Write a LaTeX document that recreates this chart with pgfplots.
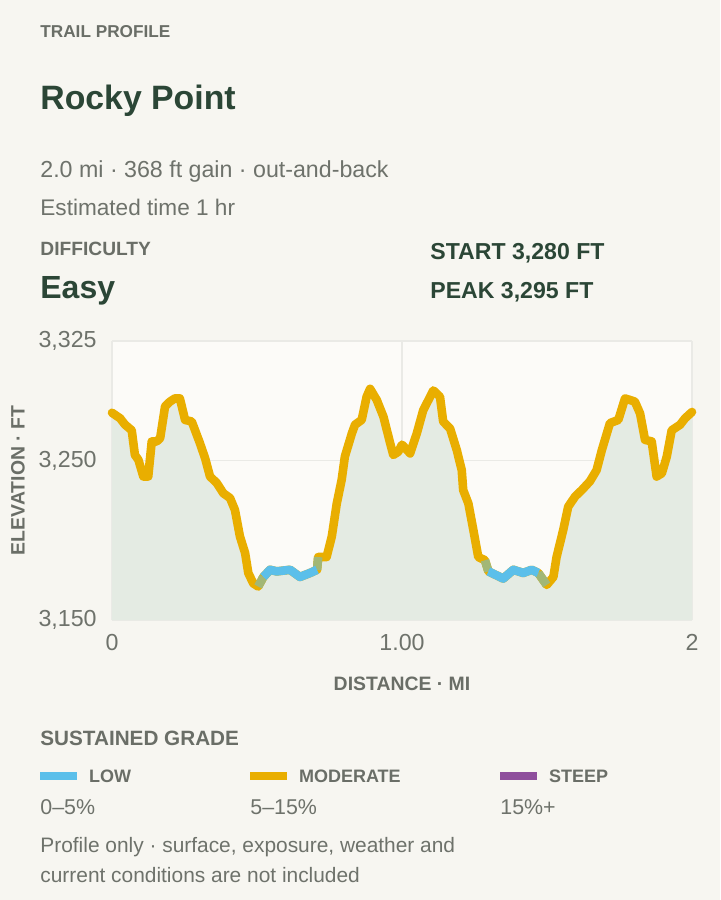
\documentclass[border=0pt]{standalone}
\usepackage{pgfplots}
\pgfplotsset{compat=1.18}
\usepackage{pgfplotstable}
\usepackage{fontspec}
\setmainfont{Liberation Sans}
\definecolor{bgc}{HTML}{F7F6F1}
\definecolor{plotbg}{HTML}{FCFBF8}
\definecolor{fillc}{HTML}{E4EBE3}
\definecolor{gridc}{HTML}{EAEAE6}
\definecolor{modc}{HTML}{E9AE00}
\definecolor{lowc}{HTML}{5BBFEA}
\definecolor{steepc}{HTML}{8E4E9C}
\definecolor{mixc}{HTML}{A2B776}
\definecolor{darkc}{HTML}{2B4636}
\definecolor{grayc}{HTML}{6E726B}
\definecolor{labc}{HTML}{6A6E67}

\pgfplotstableread{
x y
0.000 3280
0.028 3276.5
0.045 3272.5
0.068 3269
0.079 3253.5
0.091 3250.5
0.108 3240
0.125 3240
0.137 3262
0.154 3262
0.166 3264
0.183 3284
0.200 3287
0.217 3289
0.234 3289
0.252 3275.5
0.275 3274.5
0.303 3261
0.321 3251.5
0.338 3240
0.361 3236
0.384 3229.5
0.407 3226.5
0.424 3219
0.441 3202.5
0.459 3192
0.470 3179.5
0.487 3173
0.504 3171
0.522 3177
0.545 3181.5
0.568 3180.5
0.614 3181.5
0.648 3177
0.683 3179.5
0.707 3181.5
0.711 3189.5
0.740 3189.5
0.758 3202.5
0.775 3223
0.792 3238
0.803 3252.5
0.827 3267
0.838 3272.5
0.861 3275.5
0.878 3290
0.890 3295
0.913 3288
0.936 3277.5
0.959 3261
0.970 3253.5
0.987 3255.5
1.000 3260
1.028 3254.5
1.051 3267
1.073 3281.5
1.108 3294
1.131 3290
1.142 3274.5
1.166 3270
1.189 3256.5
1.206 3244
1.211 3231.5
1.229 3223
1.246 3206.5
1.263 3189.5
1.286 3187.5
1.298 3180.5
1.349 3176
1.384 3181.5
1.418 3179.5
1.447 3181.5
1.470 3179.5
1.499 3172
1.522 3177
1.533 3189.5
1.556 3206.5
1.573 3221
1.597 3227.5
1.620 3231.5
1.648 3237
1.671 3244
1.689 3256.5
1.717 3273.5
1.746 3275.5
1.769 3289
1.803 3287
1.821 3279.5
1.838 3263
1.861 3262
1.878 3240
1.896 3242
1.913 3252.5
1.930 3269
1.959 3272.5
1.976 3276.5
2.000 3280.5
}\profile

\begin{document}
\begin{tikzpicture}
\useasboundingbox (0,0) rectangle (360pt,-450pt);
\fill[bgc] (0,0) rectangle (360pt,-450pt);
\begin{scope}[x=0.5pt,y=-0.5pt]
\node[anchor=base west,inner sep=0pt,text=labc,font=\bfseries\fontsize{8.6}{10}\selectfont] at (40,37) {TRAIL PROFILE};
\node[anchor=base west,inner sep=0pt,text=darkc,font=\bfseries\fontsize{16.9}{19}\selectfont] at (40,109) {Rocky Point};
\node[anchor=base west,inner sep=0pt,text=grayc,font=\fontsize{11.6}{13}\selectfont] at (40,177) {2.0 mi · 368 ft gain · out-and-back};
\node[anchor=base west,inner sep=0pt,text=grayc,font=\fontsize{11.3}{13}\selectfont] at (40,215) {Estimated time 1 hr};
\node[anchor=base west,inner sep=0pt,text=labc,font=\bfseries\fontsize{9.6}{11}\selectfont] at (40,255) {DIFFICULTY};
\node[anchor=base west,inner sep=0pt,text=darkc,font=\bfseries\fontsize{16}{19}\selectfont] at (40,298) {Easy};
\node[anchor=base west,inner sep=0pt,text=darkc,font=\bfseries\fontsize{11.55}{13}\selectfont] at (430,259) {START 3,280 FT};
\node[anchor=base west,inner sep=0pt,text=darkc,font=\bfseries\fontsize{11.55}{13}\selectfont] at (430,298) {PEAK 3,295 FT};
\node[anchor=base west,inner sep=0pt,text=labc,font=\bfseries\fontsize{10.35}{12}\selectfont] at (40,745) {SUSTAINED GRADE};
\node[anchor=base west,inner sep=0pt,text=grayc,font=\fontsize{10.7}{12}\selectfont] at (40,814) {0--5\%};
\node[anchor=base west,inner sep=0pt,text=grayc,font=\fontsize{10.7}{12}\selectfont] at (250,814) {5--15\%};
\node[anchor=base west,inner sep=0pt,text=grayc,font=\fontsize{10.7}{12}\selectfont] at (500,814) {15\%+};
\node[anchor=base west,inner sep=0pt,text=grayc,font=\fontsize{10.45}{12}\selectfont] at (40,852) {Profile only · surface, exposure, weather and};
\node[anchor=base west,inner sep=0pt,text=grayc,font=\fontsize{10.45}{12}\selectfont] at (40,882) {current conditions are not included};
\end{scope}
\begin{axis}[
  at={(56pt,-310pt)}, anchor=south west,
  width=290pt, height=139.5pt, scale only axis,
  xmin=0, xmax=2, ymin=3150, ymax=3325,
  clip=false,
  axis line style={draw=none},
  major tick length=0pt,
  xtick={0,1,2}, xticklabels={0,1.00,2},
  ytick={3150,3250,3325},
  scaled y ticks=false,
  /pgf/number format/.cd, 1000 sep={,}, assume math mode=true, /pgfplots/.cd,
  grid=major,
  major grid style={draw=gridc, line width=0.6pt},
  axis background/.style={fill=plotbg},
  tick label style={font=\fontsize{11.6}{13}\selectfont, text=grayc},
  yticklabel style={anchor=east, inner sep=0pt, xshift=-7.5pt},
  xticklabel style={anchor=north, inner sep=0pt, yshift=-7pt},
  xlabel={DISTANCE · MI}, ylabel={ELEVATION · FT},
  label style={font=\bfseries\fontsize{9.7}{11}\selectfont, text=labc},
  xlabel style={at={(axis description cs:0.5,-0.229)}, anchor=center},
  ylabel style={at={(axis description cs:-0.162,0.5)}, anchor=center},
  legend image code/.code={\fill[#1] (0pt,1.2pt) rectangle (18.5pt,5.2pt);},
  legend style={at={(axis description cs:-0.1241,-0.5376)}, anchor=north west,
    draw=none, fill=none, inner sep=0pt, outer sep=0pt, legend columns=3,
    font=\bfseries\fontsize{9}{11}\selectfont, text=labc,
    nodes={inner sep=0pt, anchor=base},
    /tikz/every odd column/.append style={column sep=6pt}},
  legend cell align=left,
]
\addplot[fill=fillc, draw=none, forget plot] table[x=x,y=y] {\profile} \closedcycle;
\addplot[modc, line width=4.3pt, line join=round, line cap=round, forget plot] table[x=x,y=y] {\profile};
\addplot[mixc, line width=4.3pt, line join=round, line cap=butt, forget plot] coordinates {(0.504,3171) (0.522,3177)};
\addplot[mixc, line width=4.3pt, line join=round, line cap=butt, forget plot] coordinates {(0.707,3181.5) (0.711,3189.5)};
\addplot[mixc, line width=4.3pt, line join=round, line cap=butt, forget plot] coordinates {(1.286,3187.5) (1.298,3180.5)};
\addplot[mixc, line width=4.3pt, line join=round, line cap=butt, forget plot] coordinates {(1.470,3179.5) (1.499,3172)};
\addplot[lowc, line width=4.3pt, line join=round, line cap=butt, forget plot] coordinates {(0.522,3177) (0.545,3181.5) (0.568,3180.5) (0.614,3181.5) (0.648,3177) (0.683,3179.5) (0.707,3181.5)};
\addplot[lowc, line width=4.3pt, line join=round, line cap=butt, forget plot] coordinates {(1.298,3180.5) (1.349,3176) (1.384,3181.5) (1.418,3179.5) (1.447,3181.5) (1.470,3179.5)};
\addlegendimage{fill=lowc, draw=none}
\addlegendentry{\makebox[80.5pt][l]{LOW}}
\addlegendimage{fill=modc, draw=none}
\addlegendentry{\makebox[100.5pt][l]{MODERATE}}
\addlegendimage{fill=steepc, draw=none}
\addlegendentry{STEEP}
\end{axis}
\end{tikzpicture}
\end{document}
